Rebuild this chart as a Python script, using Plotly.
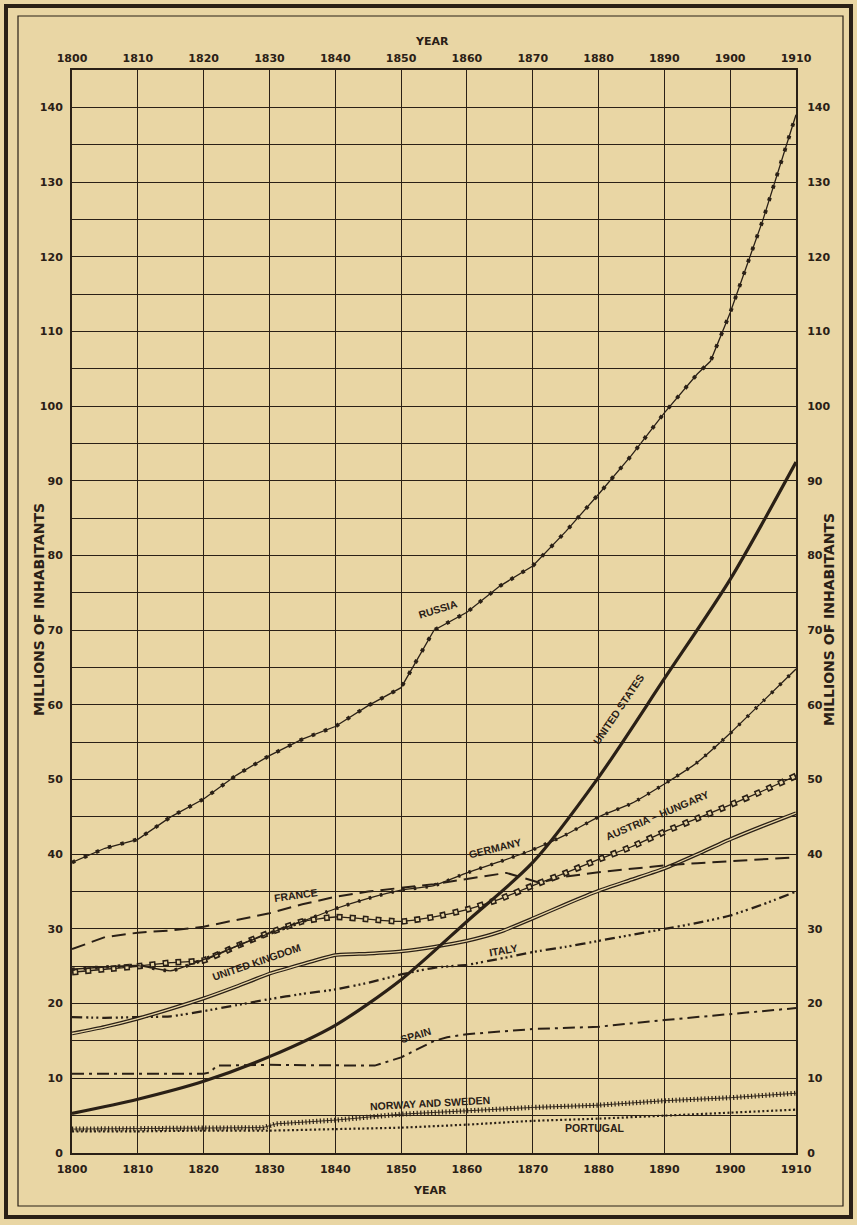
import plotly.graph_objects as go

BG = "#e9d6a4"
INK = "#2a2016"

# ---------------- data (millions of inhabitants) ----------------
russia_years = [1800, 1805, 1810, 1815, 1820, 1825, 1830, 1835, 1840, 1845, 1850,
                1855, 1860, 1865, 1870, 1875, 1880, 1885, 1890, 1895, 1897, 1900, 1905, 1910]
russia_vals = [38.9, 40.8, 42.0, 45.0, 47.4, 50.6, 53.2, 55.4, 57.1, 59.9, 62.3,
               70.0, 72.4, 75.9, 78.6, 83.2, 88.2, 93.4, 99.1, 104.3, 106.0, 112.5, 125.0, 139.0]

us_years = [1800, 1810, 1820, 1830, 1840, 1850, 1860, 1870, 1880, 1890, 1900, 1910]
us_vals = [5.3, 7.2, 9.6, 12.9, 17.1, 23.2, 31.0, 38.9, 50.3, 63.5, 76.8, 92.5]

five_years = [1800, 1805, 1810, 1815, 1820, 1825, 1830, 1835, 1840, 1845, 1850, 1855,
              1860, 1865, 1870, 1875, 1880, 1885, 1890, 1895, 1900, 1905, 1910]
germany_vals = [24.6, 24.9, 25.1, 24.4, 25.9, 27.7, 29.4, 31.0, 32.7, 34.1, 35.2, 35.8,
                37.5, 39.0, 40.6, 42.6, 45.0, 46.8, 49.4, 52.3, 56.2, 60.5, 64.8]
austria_vals = [24.2, 24.6, 25.0, 25.5, 25.8, 27.7, 29.5, 31.0, 31.6, 31.3, 31.0, 31.6,
                32.6, 34.0, 35.8, 37.5, 39.3, 41.0, 43.0, 44.8, 46.6, 48.5, 50.5]
uk_vals = [16.0, 16.9, 18.0, 19.3, 20.7, 22.3, 24.0, 25.3, 26.5, 26.7, 27.0, 27.6,
           28.4, 29.6, 31.4, 33.3, 35.1, 36.6, 38.1, 40.0, 42.0, 43.8, 45.5]
italy_vals = [18.2, 18.1, 18.2, 18.3, 19.0, 19.8, 20.6, 21.3, 21.9, 22.8, 23.9, 24.8,
              25.2, 26.0, 26.9, 27.6, 28.4, 29.2, 30.0, 30.8, 31.8, 33.3, 35.0]

france_years = [1800, 1805, 1810, 1815, 1820, 1825, 1830, 1835, 1840, 1845, 1850, 1855,
                1860, 1866, 1871, 1875, 1880, 1885, 1890, 1895, 1900, 1905, 1910]
france_vals = [27.3, 28.9, 29.5, 29.8, 30.3, 31.2, 32.1, 33.3, 34.3, 35.0, 35.5, 36.0,
               36.7, 37.5, 36.2, 37.0, 37.6, 38.1, 38.5, 38.8, 39.1, 39.3, 39.6]

spain_years = [1800, 1810, 1820, 1821, 1822, 1830, 1840, 1846, 1850, 1855, 1857,
               1860, 1870, 1880, 1890, 1900, 1910]
spain_vals = [10.6, 10.6, 10.6, 10.8, 11.7, 11.8, 11.7, 11.7, 12.8, 15.0, 15.5,
              15.9, 16.6, 16.9, 17.8, 18.6, 19.4]

nsw_years = [1800, 1810, 1820, 1829, 1831, 1840, 1850, 1860, 1870, 1880, 1890, 1900, 1910]
nsw_vals = [3.2, 3.3, 3.3, 3.4, 3.9, 4.4, 5.2, 5.7, 6.1, 6.4, 7.0, 7.4, 8.0]

portugal_years = [1800, 1810, 1820, 1830, 1840, 1850, 1860, 1870, 1880, 1890, 1900, 1910]
portugal_vals = [2.9, 2.9, 3.0, 3.0, 3.2, 3.4, 3.8, 4.3, 4.6, 5.0, 5.4, 5.8]

year_ticks = list(range(1800, 1911, 10))
year_labels = [str(y) for y in year_ticks]
value_ticks = list(range(0, 141, 5))
value_labels = [str(v) if v % 10 == 0 else "" for v in value_ticks]

# ---------------- figure ----------------
W, H = 857, 1225
ML, MR, MT, MB = 72, 61, 70, 72
PW, PH = W - ML - MR, H - MT - MB


def px2x(px):
    return (px - ML) / PW


def py2y(py):
    return (H - MB - py) / PH


fig = go.Figure()


def add(x, y, width, dash="solid", color=INK, shape="linear", smoothing=1.0):
    line = dict(color=color, width=width, dash=dash, shape=shape)
    if shape == "spline":
        line["smoothing"] = smoothing
    fig.add_trace(go.Scatter(x=x, y=y, mode="lines", line=line,
                             hoverinfo="skip", showlegend=False))


# Portugal: dotted
add(portugal_years, portugal_vals, 2.2, "2px,2.4px", shape="spline", smoothing=0.6)
# Norway and Sweden: row of crosses
add(nsw_years, nsw_vals, 5, "1.2px,2.4px")
add(nsw_years, nsw_vals, 0.9)
# Spain: dash-dot
add(spain_years, spain_vals, 2.0, "12px,5px,3px,5px")
# Italy: dash-dot-dot-dot
add(five_years, italy_vals, 2.3, "10px,4px,2px,3px,2px,3px,2px,4px", shape="spline", smoothing=0.5)
# United Kingdom: double line
add(five_years, uk_vals, 3.8, shape="spline", smoothing=0.5)
add(five_years, uk_vals, 1.3, color=BG, shape="spline", smoothing=0.5)
# France: long dashes
add(france_years, france_vals, 2.0, "14px,7px")
# Austria-Hungary: line with open circles
add(five_years, austria_vals, 1.3, shape="spline", smoothing=0.5)
add(five_years, austria_vals, 6.5, "6px,7px", shape="spline", smoothing=0.5)
add(five_years, austria_vals, 3.2, "0px,1.5px,3px,8.5px", color=BG, shape="spline", smoothing=0.5)
# Germany: line with small dots
add(five_years, germany_vals, 1.3, shape="spline", smoothing=0.5)
add(five_years, germany_vals, 3.6, "2.5px,9px", shape="spline", smoothing=0.5)
# Russia: line with dots
add(russia_years, russia_vals, 1.3)
add(russia_years, russia_vals, 3.8, "3.5px,9.5px")
# United States: heavy line
add(us_years, us_vals, 3.2, shape="spline", smoothing=0.8)

# invisible trace for the secondary axes
fig.add_trace(go.Scatter(x=[1800, 1910], y=[0, 145], xaxis="x2", yaxis="y2",
                         mode="lines", line=dict(width=0), hoverinfo="skip", showlegend=False))

tickfont = dict(family="DejaVu Sans, sans-serif", size=11, color=INK, weight="bold")

common_x = dict(range=[1800, 1910], tickmode="array", tickvals=year_ticks, ticktext=year_labels,
                tickfont=tickfont, zeroline=False, fixedrange=True, automargin=False)
common_y = dict(range=[0, 145], tickmode="array", tickvals=value_ticks, ticktext=value_labels,
                tickfont=tickfont, zeroline=False, fixedrange=True, automargin=False)

fig.update_layout(
    width=W, height=H,
    margin=dict(l=ML, r=MR, t=MT, b=MB, autoexpand=False),
    paper_bgcolor=BG, plot_bgcolor=BG,
    xaxis=dict(**common_x, showgrid=True, gridcolor=INK, gridwidth=1.2,
               showline=True, linecolor=INK, linewidth=2, mirror=True,
               ticks="outside", ticklen=5, tickcolor="rgba(0,0,0,0)"),
    xaxis2=dict(**common_x, overlaying="x", side="top", showgrid=False, showline=False,
                ticks="outside", ticklen=3, tickcolor="rgba(0,0,0,0)"),
    yaxis=dict(**common_y, showgrid=True, gridcolor=INK, gridwidth=1.2,
               showline=True, linecolor=INK, linewidth=2, mirror=True,
               ticks="outside", ticklen=5, tickcolor="rgba(0,0,0,0)"),
    yaxis2=dict(**common_y, overlaying="y", side="right", showgrid=False, showline=False,
                ticks="outside", ticklen=8, tickcolor="rgba(0,0,0,0)"),
    font=dict(family="DejaVu Sans, sans-serif", color=INK),
)

# frames
fig.add_shape(type="rect", xref="paper", yref="paper",
              x0=px2x(6), x1=px2x(851), y0=py2y(1217), y1=py2y(6),
              line=dict(color=INK, width=4), layer="above")
fig.add_shape(type="rect", xref="paper", yref="paper",
              x0=px2x(18), x1=px2x(843), y0=py2y(1206), y1=py2y(16),
              line=dict(color=INK, width=1.2), layer="above")

titlefont = dict(family="DejaVu Sans, sans-serif", size=11, color=INK, weight="bold")
ytitlefont = dict(family="DejaVu Sans, sans-serif", size=14, color=INK, weight="bold")
ctr = dict(xanchor="center", yanchor="middle", showarrow=False)
fig.add_annotation(text="YEAR", xref="paper", yref="paper", x=px2x(432), y=py2y(41),
                   font=titlefont, **ctr)
fig.add_annotation(text="YEAR", xref="paper", yref="paper", x=px2x(430), y=py2y(1190),
                   font=titlefont, **ctr)
fig.add_annotation(text="MILLIONS OF INHABITANTS", xref="paper", yref="paper",
                   x=px2x(39), y=py2y(610), textangle=-90, font=ytitlefont, **ctr)
fig.add_annotation(text="MILLIONS OF INHABITANTS", xref="paper", yref="paper",
                   x=px2x(829), y=py2y(620), textangle=-90, font=ytitlefont, **ctr)

labelfont = dict(family="Liberation Sans, Arial, sans-serif", size=10.5, color=INK, weight="bold")
labels = [
    ("RUSSIA", 1855.6, 72.8, -17),
    ("UNITED STATES", 1883.0, 59.5, -56),
    ("GERMANY", 1864.3, 40.9, -14),
    ("AUSTRIA – HUNGARY", 1889.0, 45.2, -23),
    ("FRANCE", 1834.0, 34.5, -8),
    ("UNITED KINGDOM", 1828.0, 25.6, -19),
    ("ITALY", 1865.6, 27.2, -10),
    ("SPAIN", 1852.2, 15.8, -16),
    ("NORWAY AND SWEDEN", 1854.4, 6.7, -3),
    ("PORTUGAL", 1879.5, 3.3, 0),
]
for text, x, y, ang in labels:
    fig.add_annotation(text=text, x=x, y=y, xref="x", yref="y", textangle=ang,
                       font=labelfont, **ctr)

fig.write_html(
    "out.html",
    config={"displayModeBar": False},
    post_script="document.body.style.margin='0';document.body.style.padding='0';"
                "document.documentElement.style.overflow='hidden';",
)
